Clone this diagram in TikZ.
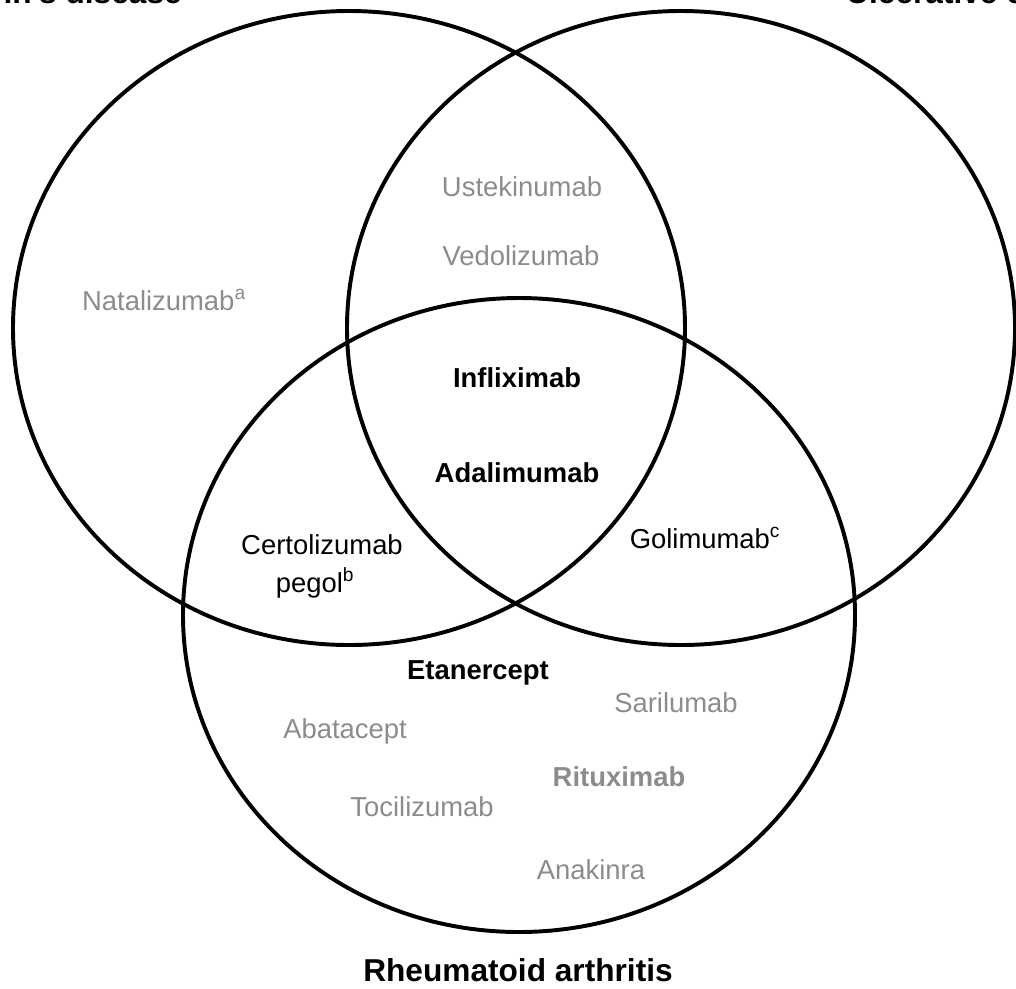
\documentclass[tikz,border=0pt]{standalone}
\usepackage{fontspec}
\setmainfont{Liberation Sans}
\usepackage{tikz}
\definecolor{drugGray}{HTML}{8C8C8C}
\tikzset{
	drug/.style={font=\fontsize{19.5}{22}\selectfont, text=drugGray, inner sep=0pt},
	approved/.style={font=\fontsize{19.5}{22}\selectfont, text=black, inner sep=0pt},
	key/.style={font=\fontsize{19.5}{22}\selectfont\bfseries, text=black, inner sep=0pt},
	title/.style={font=\fontsize{22.5}{26}\selectfont\bfseries, text=black, inner sep=0pt},
	ring/.style={line width=2.8pt, black}
}

\begin{document}
\begin{tikzpicture}[x=0.025cm, y=-0.025cm]
\useasboundingbox (0,0) rectangle (1016,988);
\clip (0,0) rectangle (1016,988);

% the three disease sets
\draw[ring] (349, 328) ellipse (336 and 317);
\draw[ring] (681, 328) ellipse (334 and 317);
\draw[ring] (519, 615) ellipse (336 and 317);

% set titles
\node[title, anchor=base east] (crohn) at (182, 3) {Crohn's disease};
\node[title, anchor=base west] (uc) at (846, 3) {Ulcerative colitis};
\node[title] (ra) at (518, 970) {Rheumatoid arthritis};

% Crohn's disease only
\node[drug] (natalizumab) at (164, 300) {Natalizumab\textsuperscript{a}};

% Crohn's disease and ulcerative colitis
\node[drug] (ustekinumab) at (522, 187) {Ustekinumab};
\node[drug] (vedolizumab) at (521, 256) {Vedolizumab};

% all three
\node[key] (infliximab) at (517, 378) {Infliximab};
\node[key] (adalimumab) at (517, 473) {Adalimumab};

% two of three
\node[approved] (certolizumab) at (322, 545) {Certolizumab};
\node[approved] (pegol) at (315, 583) {pegol\textsuperscript{b}};
\node[approved] (golimumab) at (705, 538) {Golimumab\textsuperscript{c}};

% rheumatoid arthritis only
\node[key] (etanercept) at (478, 673) {Etanercept};
\node[drug] (sarilumab) at (676, 703) {Sarilumab};
\node[drug] (abatacept) at (345, 731) {Abatacept};
\node[key, text=drugGray] (rituximab) at (619, 777) {Rituximab};
\node[drug] (tocilizumab) at (422, 807) {Tocilizumab};
\node[drug] (anakinra) at (591, 870) {Anakinra};
\end{tikzpicture}
\end{document}
